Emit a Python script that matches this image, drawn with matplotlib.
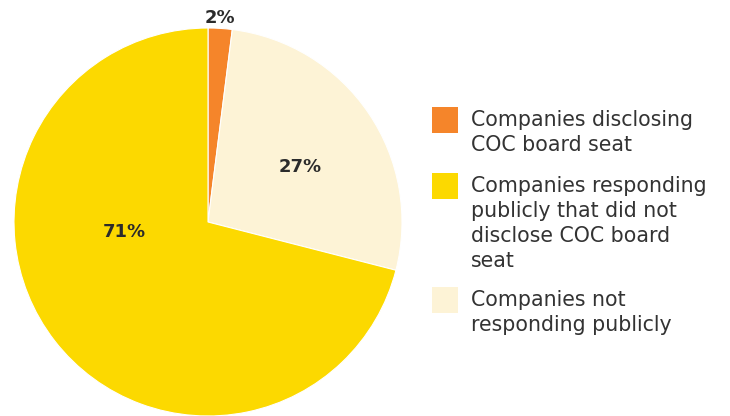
import matplotlib.pyplot as plt
from matplotlib.patches import Rectangle

# pie data
shares = [2, 27, 71]
pct_labels = ['2%', '27%', '71%']
colors = ['#F5852A', '#FDF3D6', '#FCD900']
legend_labels = ['Companies disclosing\nCOC board seat',
                 'Companies responding\npublicly that did not\ndisclose COC board\nseat',
                 'Companies not\nresponding publicly']
legend_colors = ['#F5852A', '#FCD900', '#FDF3D6']

W, H = 730, 416
fig = plt.figure(figsize=(W / 100, H / 100), dpi=100)
ax = fig.add_axes([14 / W, 0 / H, 388 / W, 388 / H])
ax.pie(shares, colors=colors, startangle=90, counterclock=False,
       wedgeprops=dict(linewidth=0.8, edgecolor='white'))
ax.set_xlim(-1, 1)
ax.set_ylim(-1, 1)
ax.set_aspect('equal')

# percent labels (px positions)
label_px = [(220, 18), (300, 167), (124, 232)]
for (px, py), t in zip(label_px, pct_labels):
    fig.text(px / W, 1 - py / H, t, ha='center', va='center',
             fontsize=13, fontweight='bold', color='#2b2b2b')

# legend
box_top = [107, 173, 287]
for top, lab, c in zip(box_top, legend_labels, legend_colors):
    fig.patches.append(Rectangle((432 / W, 1 - (top + 26) / H), 26 / W, 26 / H,
                                 transform=fig.transFigure, facecolor=c,
                                 edgecolor='none'))
    fig.text(471 / W, 1 - (top + 3) / H, lab, ha='left', va='top',
             fontsize=14.8, color='#333333', linespacing=1.32)

fig.savefig('out.png', dpi=100)
